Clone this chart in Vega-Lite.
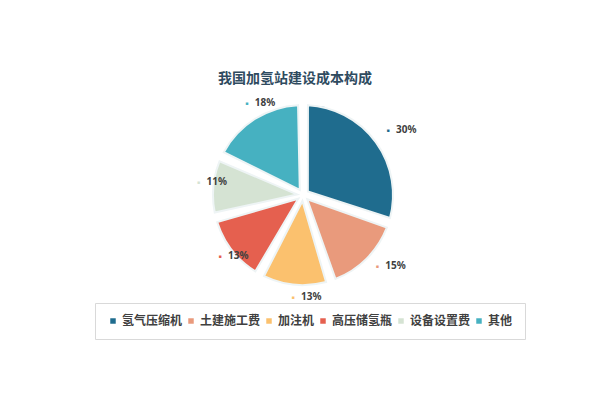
{
  "$schema": "https://vega.github.io/schema/vega-lite/v6.json",
  "width": 594,
  "height": 390,
  "autosize": "none",
  "padding": {"left": 6, "top": 0, "right": 0, "bottom": 10},
  "background": "white",
  "title": {
    "text": "我国加氢站建设成本构成",
    "font": "Noto Sans CJK SC",
    "fontSize": 14,
    "fontWeight": "bold",
    "color": "#2f4b5f",
    "anchor": "middle",
    "dx": -8,
    "dy": 90
  },
  "data": {
    "values": [
      {"item": "氢气压缩机", "value": 30, "label": "30%", "order": 1},
      {"item": "土建施工费", "value": 15, "label": "15%", "order": 2},
      {"item": "加注机", "value": 13, "label": "13%", "order": 3},
      {"item": "高压储氢瓶", "value": 13, "label": "13%", "order": 4},
      {"item": "设备设置费", "value": 11, "label": "11%", "order": 5},
      {"item": "其他", "value": 18, "label": "18%", "order": 6}
    ]
  },
  "encoding": {
    "theta": {"field": "value", "type": "quantitative", "stack": true},
    "order": {"field": "order", "type": "quantitative"},
    "color": {
      "field": "item",
      "type": "nominal",
      "sort": ["氢气压缩机", "土建施工费", "加注机", "高压储氢瓶", "设备设置费", "其他"],
      "scale": {
        "domain": ["氢气压缩机", "土建施工费", "加注机", "高压储氢瓶", "设备设置费", "其他"],
        "range": ["#1f6c8e", "#e99a7c", "#fbc16e", "#e5604f", "#d5e3d3", "#46b1c1"]
      },
      "legend": {
        "orient": "none",
        "legendX": 89,
        "legendY": 303,
        "direction": "horizontal",
        "columns": 6,
        "title": null,
        "symbolType": "square",
        "symbolSize": 30,
        "symbolStrokeWidth": 0,
        "labelFont": "Noto Sans CJK SC",
        "labelFontSize": 12,
        "labelFontWeight": "bold",
        "labelColor": "#404040",
        "labelOffset": 3,
        "columnPadding": 2,
        "padding": 12,
        "strokeColor": "#d9d9d9",
        "fillColor": "white"
      }
    }
  },
  "layer": [
    {
      "mark": {
        "type": "arc",
        "outerRadius": 90,
        "innerRadius": 6,
        "padAngle": 0.11,
        "stroke": "#eef4f5",
        "strokeWidth": 2
      }
    },
    {
      "mark": {
        "type": "text",
        "radius": 105,
        "dy": -3,
        "text": "■",
        "fontSize": 5,
        "align": "center",
        "baseline": "middle"
      }
    },
    {
      "mark": {
        "type": "text",
        "radius": 105,
        "dx": 8,
        "dy": -3,
        "align": "left",
        "baseline": "middle",
        "font": "Noto Sans",
        "fontSize": 10,
        "fontWeight": "bold",
        "color": "#404040"
      },
      "encoding": {
        "text": {"field": "label", "type": "nominal"},
        "color": {"value": "#404040"}
      }
    }
  ],
  "config": {"view": {"stroke": null}}
}
